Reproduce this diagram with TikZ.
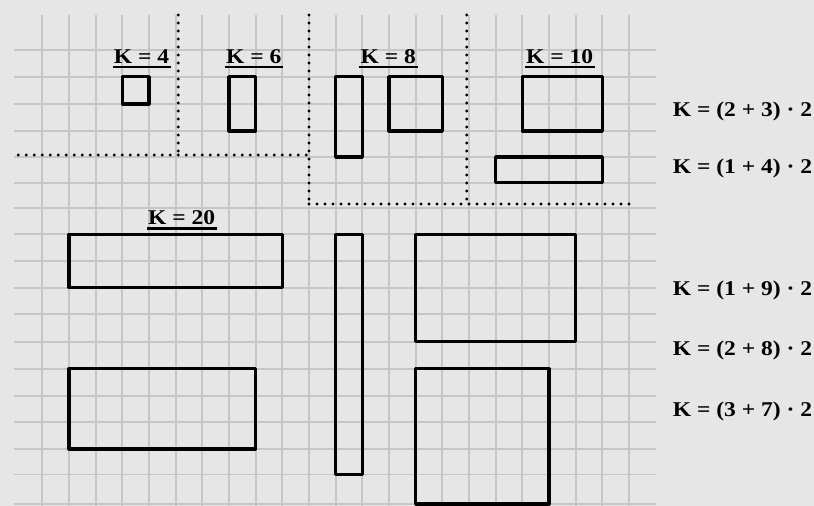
\documentclass[tikz,border=0pt]{standalone}
\usepackage{fontspec}
\setmainfont{Liberation Serif}[FakeStretch=1.12]
\definecolor{bgc}{RGB}{230,230,230}
\definecolor{gridc}{RGB}{198,198,198}
\begin{document}
\begin{tikzpicture}[x=1pt,y=-1pt,
  gridline/.style={draw=gridc,line width=1.7pt},
  shape rect/.style={draw=black,line width=3.2pt,line join=round},
  dotline/.style={draw=black,line width=3.3pt,line cap=round,dash pattern=on 0pt off 8pt},
  klabel/.style={inner sep=0pt,anchor=base,font=\fontsize{21}{24}\selectfont\bfseries},
  eqlabel/.style={inner sep=0pt,anchor=base west,font=\fontsize{21}{24}\selectfont\bfseries},
  uline/.style={draw=black,line width=2.7pt}]
\fill[bgc] (0,0) rectangle (814,506);
\useasboundingbox (0,0) rectangle (814,506);
% grid
\foreach \i in {1,...,23}{
  \draw[gridline] ({15.667+26.667*\i},15) -- ({15.667+26.667*\i},506);
}
\foreach \y in {50,76.7,104,131,157,182.7,208,234.3,261,287.7,314.3,341.7,368.7,395.7,422.3,449,474.5,504}{
  \draw[gridline] (14,\y) -- (656,\y);
}
% dotted separators
\draw[dotline] (178.3,15) -- (178.3,155);
\draw[dotline] (18.3,155) -- (309,155);
\draw[dotline] (309,15) -- (309,204);
\draw[dotline] (309,204) -- (635,204);
\draw[dotline] (466.7,15) -- (466.7,204);
% rectangles
\draw[shape rect] (122.33,76.7) rectangle (149,104);
\draw[shape rect] (229,76.7) rectangle (255.67,131);
\draw[shape rect] (335.67,76.7) rectangle (362.33,157);
\draw[shape rect] (389,76.7) rectangle (442.33,131);
\draw[shape rect] (522.33,76.7) rectangle (602.33,131);
\draw[shape rect] (495.67,157) rectangle (602.33,182.7);
\draw[shape rect] (69,234.3) rectangle (282.33,287.7);
\draw[shape rect] (69,368.7) rectangle (255.67,449);
\draw[shape rect] (335.67,234.3) rectangle (362.33,474.5);
\draw[shape rect] (415.67,234.3) rectangle (575.67,341.7);
\draw[shape rect] (415.67,368.7) rectangle (549,504);
% top labels
\node[klabel] (k4) at (141.5,63) {K = 4};
\node[klabel] (k6) at (253.7,63) {K = 6};
\node[klabel] (k8) at (388.3,63) {K = 8};
\node[klabel] (k10) at (559.7,63) {K = 10};
\node[klabel] (k20) at (181.7,224.5) {K = 20};
\foreach \n in {k4,k6,k8,k10,k20}{
  \draw[uline] ([xshift=-1pt,yshift=-4pt]\n.base west) -- ([xshift=1.5pt,yshift=-4pt]\n.base east);
}
% right labels
\node[eqlabel] (e1) at (672.7,116) {K = (2 + 3) · 2};
\node[eqlabel] (e2) at (672.7,173.3) {K = (1 + 4) · 2};
\node[eqlabel] (e3) at (672.7,295) {K = (1 + 9) · 2};
\node[eqlabel] (e4) at (672.7,355.5) {K = (2 + 8) · 2};
\node[eqlabel] (e5) at (672.7,416) {K = (3 + 7) · 2};
\end{tikzpicture}
\end{document}
